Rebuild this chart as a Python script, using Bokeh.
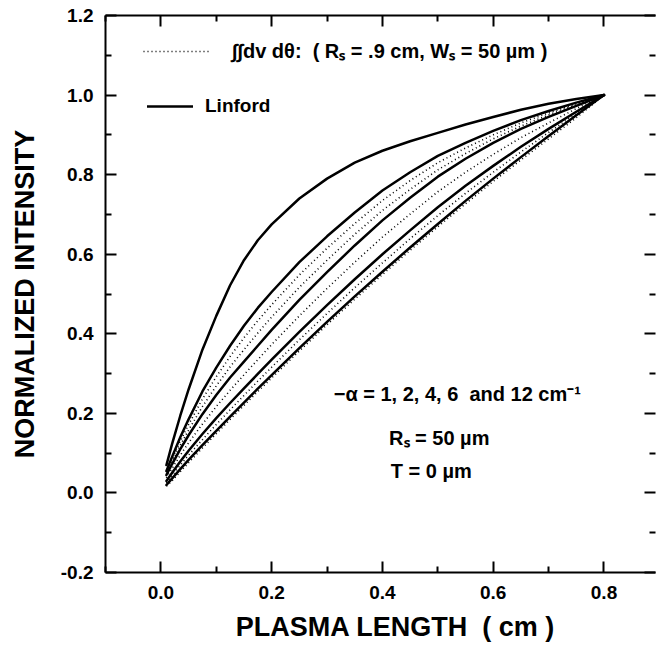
from bokeh.plotting import figure
from bokeh.models import (Range1d, LinearAxis, FixedTicker, PrintfTickFormatter,
                          Label, Legend, LegendItem)
from bokeh.embed import file_html
from bokeh.resources import INLINE

# ---------------- data ----------------
plasma_length = [0.01, 0.02, 0.035, 0.05, 0.075, 0.1, 0.125, 0.15, 0.175, 0.2, 0.25, 0.3,
                 0.35, 0.4, 0.45, 0.5, 0.55, 0.6, 0.65, 0.7, 0.75, 0.8]

# Linford curves (solid), -alpha = 12, 6, 4, 2, 1 cm^-1
linford_12 = [0.070, 0.122, 0.194, 0.260, 0.360, 0.445, 0.522, 0.585, 0.635, 0.675, 0.740,
              0.790, 0.830, 0.860, 0.884, 0.905, 0.926, 0.945, 0.963, 0.978, 0.990, 1.0]
linford_6 = [0.055, 0.090, 0.140, 0.185, 0.255, 0.315, 0.370, 0.420, 0.465, 0.505, 0.580,
             0.645, 0.705, 0.760, 0.806, 0.847, 0.880, 0.910, 0.937, 0.960, 0.981, 1.0]
linford_4 = [0.045, 0.072, 0.110, 0.145, 0.198, 0.246, 0.290, 0.330, 0.370, 0.410, 0.485,
             0.555, 0.622, 0.685, 0.742, 0.795, 0.840, 0.880, 0.915, 0.945, 0.973, 1.0]
linford_2 = [0.030, 0.050, 0.079, 0.106, 0.148, 0.188, 0.226, 0.263, 0.299, 0.335, 0.405,
             0.472, 0.537, 0.600, 0.660, 0.718, 0.772, 0.822, 0.870, 0.915, 0.958, 1.0]
linford_1 = [0.020, 0.036, 0.060, 0.083, 0.120, 0.156, 0.192, 0.227, 0.262, 0.296, 0.364,
             0.430, 0.494, 0.556, 0.617, 0.676, 0.734, 0.790, 0.844, 0.897, 0.949, 1.0]

# double integral curves (dotted)
integral_12 = [0.052, 0.084, 0.130, 0.172, 0.236, 0.292, 0.343, 0.390, 0.433, 0.473, 0.548,
               0.615, 0.677, 0.735, 0.785, 0.830, 0.867, 0.900, 0.930, 0.955, 0.978, 1.0]
integral_6 = [0.048, 0.078, 0.120, 0.158, 0.217, 0.269, 0.317, 0.360, 0.402, 0.442, 0.517,
              0.585, 0.650, 0.710, 0.763, 0.812, 0.853, 0.890, 0.922, 0.950, 0.976, 1.0]
integral_4 = [0.038, 0.061, 0.095, 0.126, 0.173, 0.217, 0.258, 0.297, 0.335, 0.373, 0.445,
              0.514, 0.580, 0.643, 0.701, 0.757, 0.806, 0.851, 0.893, 0.930, 0.966, 1.0]
integral_2 = [0.025, 0.043, 0.070, 0.095, 0.134, 0.172, 0.209, 0.245, 0.281, 0.316, 0.385,
              0.451, 0.516, 0.578, 0.639, 0.697, 0.753, 0.806, 0.857, 0.906, 0.954, 1.0]
integral_1 = [0.017, 0.030, 0.053, 0.076, 0.113, 0.149, 0.185, 0.220, 0.255, 0.289, 0.357,
              0.423, 0.487, 0.549, 0.610, 0.669, 0.727, 0.783, 0.837, 0.890, 0.943, 1.0]

x_major = [0.0, 0.2, 0.4, 0.6, 0.8]
x_minor = [-0.1, 0.1, 0.3, 0.5, 0.7, 0.9]
y_major = [-0.2, 0.0, 0.2, 0.4, 0.6, 0.8, 1.0, 1.2]
y_minor = [-0.1, 0.1, 0.3, 0.5, 0.7, 0.9, 1.1]

FONT = "Liberation Sans"
NB = "\u00a0"

p = figure(width=656, height=658, output_backend="svg", toolbar_location=None,
           x_range=Range1d(-0.1, 0.893), y_range=Range1d(-0.2, 1.2),
           x_axis_location=None, y_axis_location=None,
           min_border_left=105, min_border_right=1, min_border_top=15,
           min_border_bottom=86)
p.outline_line_color = None
p.grid.visible = False
p.background_fill_color = "white"
p.border_fill_color = "white"


def style_axis(ax, ticks, labels=True):
    ax.axis_line_width = 2
    ax.axis_line_color = "black"
    ax.major_tick_line_width = 2
    ax.minor_tick_line_width = 2
    ax.major_tick_in = 11
    ax.major_tick_out = 0
    ax.minor_tick_in = 6
    ax.minor_tick_out = 0
    ax.major_label_text_font = FONT
    ax.major_label_text_font_style = "bold"
    ax.major_label_text_color = "black"
    if labels:
        ax.major_label_text_font_size = "19px"
        ax.major_label_standoff = 13
    else:
        ax.major_label_overrides = {t: "" for t in ticks}
        ax.major_label_text_font_size = "1px"
        ax.major_label_standoff = 0
    ax.axis_label_text_font = FONT
    ax.axis_label_text_font_style = "bold"
    ax.axis_label_text_font_size = "27px"
    ax.axis_label_text_color = "black"


xb = LinearAxis(ticker=FixedTicker(ticks=x_major, minor_ticks=x_minor),
                formatter=PrintfTickFormatter(format="%.1f"),
                axis_label=NB * 4 + "PLASMA LENGTH" + NB * 2 + "( cm )")
style_axis(xb, x_major)
xb.axis_label_standoff = 10
p.add_layout(xb, "below")

xt = LinearAxis(ticker=FixedTicker(ticks=x_major, minor_ticks=x_minor))
style_axis(xt, x_major, labels=False)
p.add_layout(xt, "above")

yl = LinearAxis(ticker=FixedTicker(ticks=y_major, minor_ticks=y_minor),
                formatter=PrintfTickFormatter(format="%.1f"),
                axis_label="NORMALIZED INTENSITY")
style_axis(yl, y_major)
yl.major_label_standoff = 12
yl.axis_label_standoff = 18
p.add_layout(yl, "left")

yr = LinearAxis(ticker=FixedTicker(ticks=y_major, minor_ticks=y_minor))
style_axis(yr, y_major, labels=False)
yr.axis_line_color = None
p.add_layout(yr, "right")

solid = [linford_12, linford_6, linford_4, linford_2, linford_1]
dotted = [integral_12, integral_6, integral_4, integral_2, integral_1]

dot_renderers = []
for ys in dotted:
    r = p.line(plasma_length, ys, line_color="black", line_width=1.6,
               line_dash="1 3", line_join="round")
    dot_renderers.append(r)

sol_renderers = []
for ys in solid:
    r = p.line(plasma_length, ys, line_color="black", line_width=2.5,
               line_join="round", line_cap="round")
    sol_renderers.append(r)

leg1 = Legend(items=[LegendItem(label="\u222b\u222bdv d\u03b8:  ( R\u209b = .9 cm, W\u209b = 50 \u00b5m )",
                                renderers=[dot_renderers[0]])],
              location=(38, 508), glyph_width=67, glyph_height=22, label_height=22,
              label_standoff=22, padding=0, margin=0, border_line_color=None,
              background_fill_alpha=0, label_text_font=FONT, label_text_color="black",
              label_text_font_style="bold", label_text_font_size="20px")
p.add_layout(leg1)

leg2 = Legend(items=[LegendItem(label="Linford", renderers=[sol_renderers[0]])],
              location=(42, 455), glyph_width=46, glyph_height=22, label_height=22,
              label_standoff=12, padding=0, margin=0, border_line_color=None,
              background_fill_alpha=0, label_text_font=FONT, label_text_color="black",
              label_text_font_style="bold", label_text_font_size="19px")
p.add_layout(leg2)

notes = [
    (0.312, 0.249, "\u2212\u03b1 = 1, 2, 4, 6" + NB * 2 + "and 12 cm\u207b\u00b9"),
    (0.412, 0.139, "R\u209b = 50 \u00b5m"),
    (0.415, 0.055, "T = 0 \u00b5m"),
]
for nx, ny, txt in notes:
    p.add_layout(Label(x=nx, y=ny, text=txt, text_baseline="middle", text_align="left",
                       text_font=FONT, text_font_style="bold", text_font_size="20px",
                       text_color="black"))

open("out.html", "w").write(file_html(p, INLINE))
